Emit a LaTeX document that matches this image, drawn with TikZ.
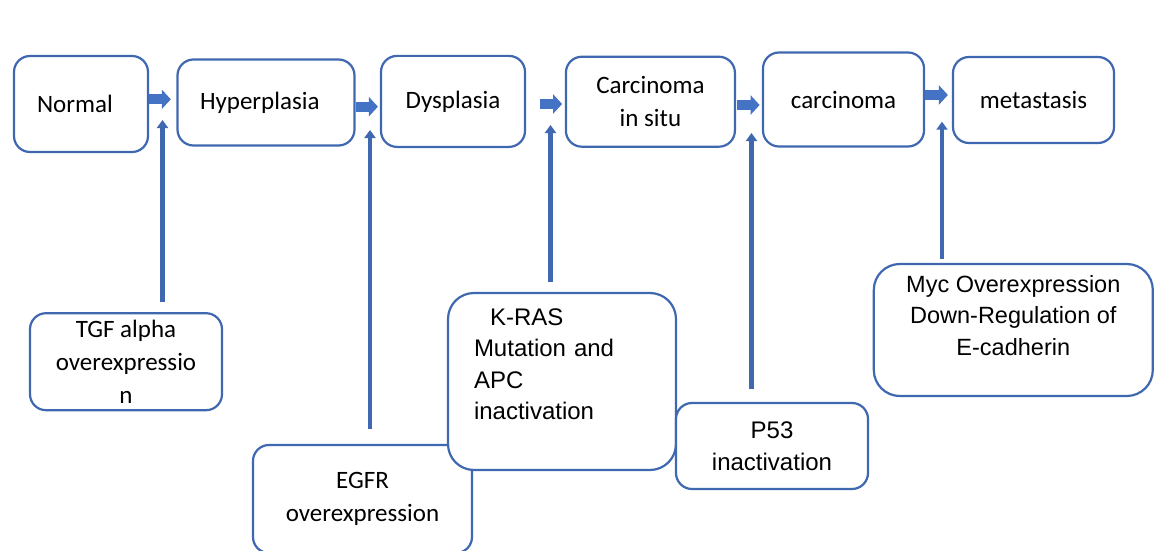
\documentclass[tikz,border=0pt]{standalone}
\usepackage{fontspec}
\setmainfont{Carlito}
\newfontfamily\arialf{Liberation Sans}
\usetikzlibrary{arrows.meta}
\definecolor{boxblue}{HTML}{3F68B0}
\definecolor{arrblue}{HTML}{4472C4}
\begin{document}
\begin{tikzpicture}[x=1pt,y=-1pt,
  box/.style={draw=boxblue, line width=2.2pt, rounded corners=16pt, fill=white, inner sep=0pt, font=\fontsize{25}{33}\selectfont, align=center},
  abox/.style={box, font=\arialf\fontsize{24}{31.5}\selectfont},
  harrow/.style={draw=arrblue, line width=10pt, -{Triangle[length=9pt,width=19pt]}},
  varrow/.style={draw=boxblue, line width=4.5pt, -{Triangle[length=8pt,width=11pt]}},
]
\useasboundingbox[fill=white] (0,0) rectangle (1154,551);

% top row
\node[box, minimum width=134pt, minimum height=96pt, text width=88pt, align=left] (normal) at (81,104) {Normal};
\node[box, minimum width=177pt, minimum height=86pt, text width=132pt, align=left] (hyper) at (266,102.5) {Hyperplasia};
\node[box, minimum width=144pt, minimum height=91pt] (dysp) at (453,101.4) {Dysplasia};
\node[box, minimum width=169pt, minimum height=90pt] (cis) at (650.4,101.7) {Carcinoma\\in situ};
\node[box, minimum width=161pt, minimum height=94pt] (carc) at (843.5,99.5) {carcinoma};
\node[box, minimum width=161pt, minimum height=86pt] (meta) at (1033.5,100) {metastasis};

% bottom row
\node[box, minimum width=192pt, minimum height=97pt] (tgf) at (126,361.7) {TGF alpha\\overexpressio\\n};
\node[box, minimum width=219pt, minimum height=108pt] (egfr) at (362.5,499) {EGFR\\overexpression};
\node[abox, rounded corners=26pt, minimum width=228pt, minimum height=177pt, text width=176pt, align=left, text depth=129.5pt] (kras) at (562,381.5) {\hspace*{16pt}K-RAS\\Mutation and\\APC\\inactivation};
\node[abox, minimum width=192pt, minimum height=86pt] (p53) at (772,446) {P53\\inactivation};
\node[abox, rounded corners=26pt, minimum width=279pt, minimum height=132pt, text depth=30pt, font=\arialf\fontsize{23.5}{31.5}\selectfont] (myc) at (1013.3,330) {Myc Overexpression\\Down-Regulation of\\E-cadherin};

% horizontal block arrows
\draw[harrow, shorten >=5.6pt] (normal.east |- 0,99.3) -- (hyper.west |- 0,99.3);
\draw[harrow, shorten >=2pt] (hyper.east |- 0,106.7) -- (dysp.west |- 0,106.7);
\draw[harrow, shorten <=13.4pt, shorten >=2.7pt] (dysp.east |- 0,104) -- (cis.west |- 0,104);
\draw[harrow, shorten <=1pt, shorten >=2.3pt] (cis.east |- 0,105) -- (carc.west |- 0,105);
\draw[harrow, shorten >=4pt] (carc.east |- 0,95) -- (meta.west |- 0,95);

% vertical arrows
\coordinate (t1) at (162.5,120);
\coordinate (t2) at (370,130);
\coordinate (t3) at (550.5,125);
\coordinate (t4) at (751.5,133);
\coordinate (t5) at (942,121.7);
\draw[varrow, shorten <=10pt] (tgf.north -| t1) -- (t1);
\draw[varrow, shorten <=15pt] (egfr.north -| t2) -- (t2);
\draw[varrow, shorten <=10pt] (kras.north -| t3) -- (t3);
\draw[varrow, shorten <=12.7pt] (p53.north -| t4) -- (t4);
\draw[varrow, shorten <=4.3pt] (myc.north -| t5) -- (t5);
\end{tikzpicture}
\end{document}
